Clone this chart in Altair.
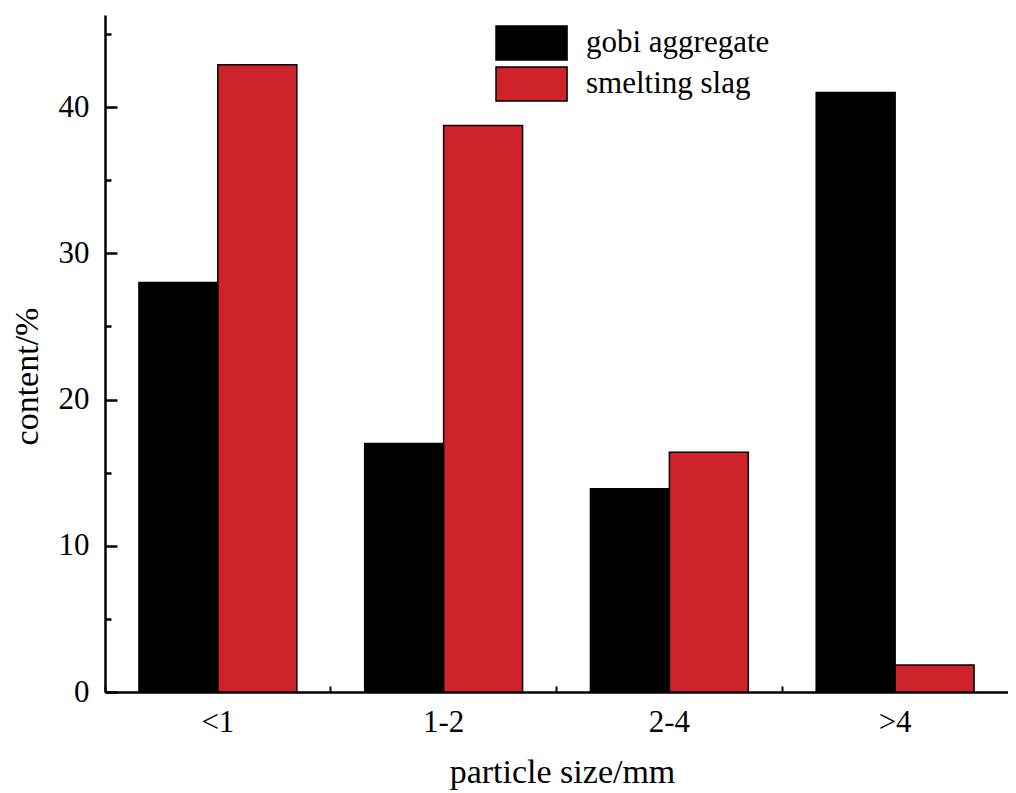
import altair as alt
import pandas as pd

categories = ["<1", "1-2", "2-4", ">4"]
series = ["gobi aggregate", "smelting slag"]
gobi = [28.0, 17.0, 13.9, 41.0]
slag = [42.9, 38.75, 16.4, 1.85]
major_ticks = [0, 10, 20, 30, 40]
minor_ticks = [5, 15, 25, 35, 45]
colors = ["#000000", "#CF232B"]

rows = []
for c, g, s in zip(categories, gobi, slag):
    rows.append({"size": c, "series": series[0], "value": g})
    rows.append({"size": c, "series": series[1], "value": s})
df = pd.DataFrame(rows)

FONT = "Liberation Serif"
ydom = [0, 46.3]

xscale = alt.Scale(domain=categories, paddingInner=0, paddingOuter=0)
yscale = alt.Scale(domain=ydom, nice=False, zero=True)

base = alt.Chart(df)

bars = base.mark_bar(stroke="#000000", strokeWidth=1.5).encode(
    x=alt.X("size:N", sort=categories, scale=xscale,
            axis=alt.Axis(title="particle size/mm", labelAngle=0, ticks=False, tickSize=0,
                          domainWidth=2.5, domainColor="#000000",
                          labelFont=FONT, labelFontSize=31, labelColor="#000000",
                          labelPadding=15, titleFont=FONT, titleFontSize=34,
                          titleFontWeight="normal", titleColor="#000000", titlePadding=18,
                          titleX=457)),
    xOffset=alt.XOffset("series:N", sort=series,
                        scale=alt.Scale(paddingInner=0, paddingOuter=0.43)),
    y=alt.Y("value:Q", scale=yscale,
            axis=alt.Axis(title="content/%", values=major_ticks, ticks=False, tickSize=0,
                          grid=False, domainWidth=2.5, domainColor="#000000",
                          labelFont=FONT, labelFontSize=31, labelColor="#000000",
                          labelPadding=16, titleFont=FONT, titleFontSize=34,
                          titleFontWeight="normal", titleColor="#000000", titlePadding=14,
                          titleY=361)),
    color=alt.Color("series:N", sort=series,
                    scale=alt.Scale(domain=series, range=colors),
                    legend=alt.Legend(orient="none", legendX=390, legendY=10, title=None,
                                      symbolType="M-1,-1H3.18V1H-1Z", symbolSize=1156,
                                      symbolStrokeColor="#000000", symbolStrokeWidth=1.5,
                                      symbolOpacity=1, labelLimit=400,
                                      labelFont=FONT, labelFontSize=31, labelColor="#000000",
                                      labelOffset=55, rowPadding=1, padding=0)),
)

major = base.mark_point(opacity=0).encode(
    x=alt.X("size:N", sort=categories, scale=xscale,
            axis=alt.Axis(orient="bottom", offset=-6, tickSize=6, tickWidth=2,
                          tickColor="#000000", bandPosition=0, labels=False,
                          domain=False, title=None)),
    y=alt.Y("value:Q", scale=yscale,
            axis=alt.Axis(orient="left", offset=-12, tickSize=12, tickWidth=2.5,
                          tickColor="#000000", values=major_ticks, labels=False,
                          domain=False, title=None, grid=False)),
)

minor = base.mark_point(opacity=0).encode(
    x=alt.X("size:N", sort=categories, scale=xscale, axis=None),
    y=alt.Y("value:Q", scale=yscale,
            axis=alt.Axis(orient="left", offset=-6, tickSize=6, tickWidth=2.5,
                          tickColor="#000000", values=minor_ticks, labels=False,
                          domain=False, title=None, grid=False)),
)

chart = alt.layer(bars, major, minor).resolve_axis(
    x="independent", y="independent"
).properties(
    width=903, height=677,
    padding={"left": 97, "top": 7, "right": 0, "bottom": 100},
    autosize=alt.AutoSizeParams(type="none"),
    background="white",
).configure_view(stroke=None)

chart.save("out.html", embed_options={"renderer": "svg", "actions": False})
